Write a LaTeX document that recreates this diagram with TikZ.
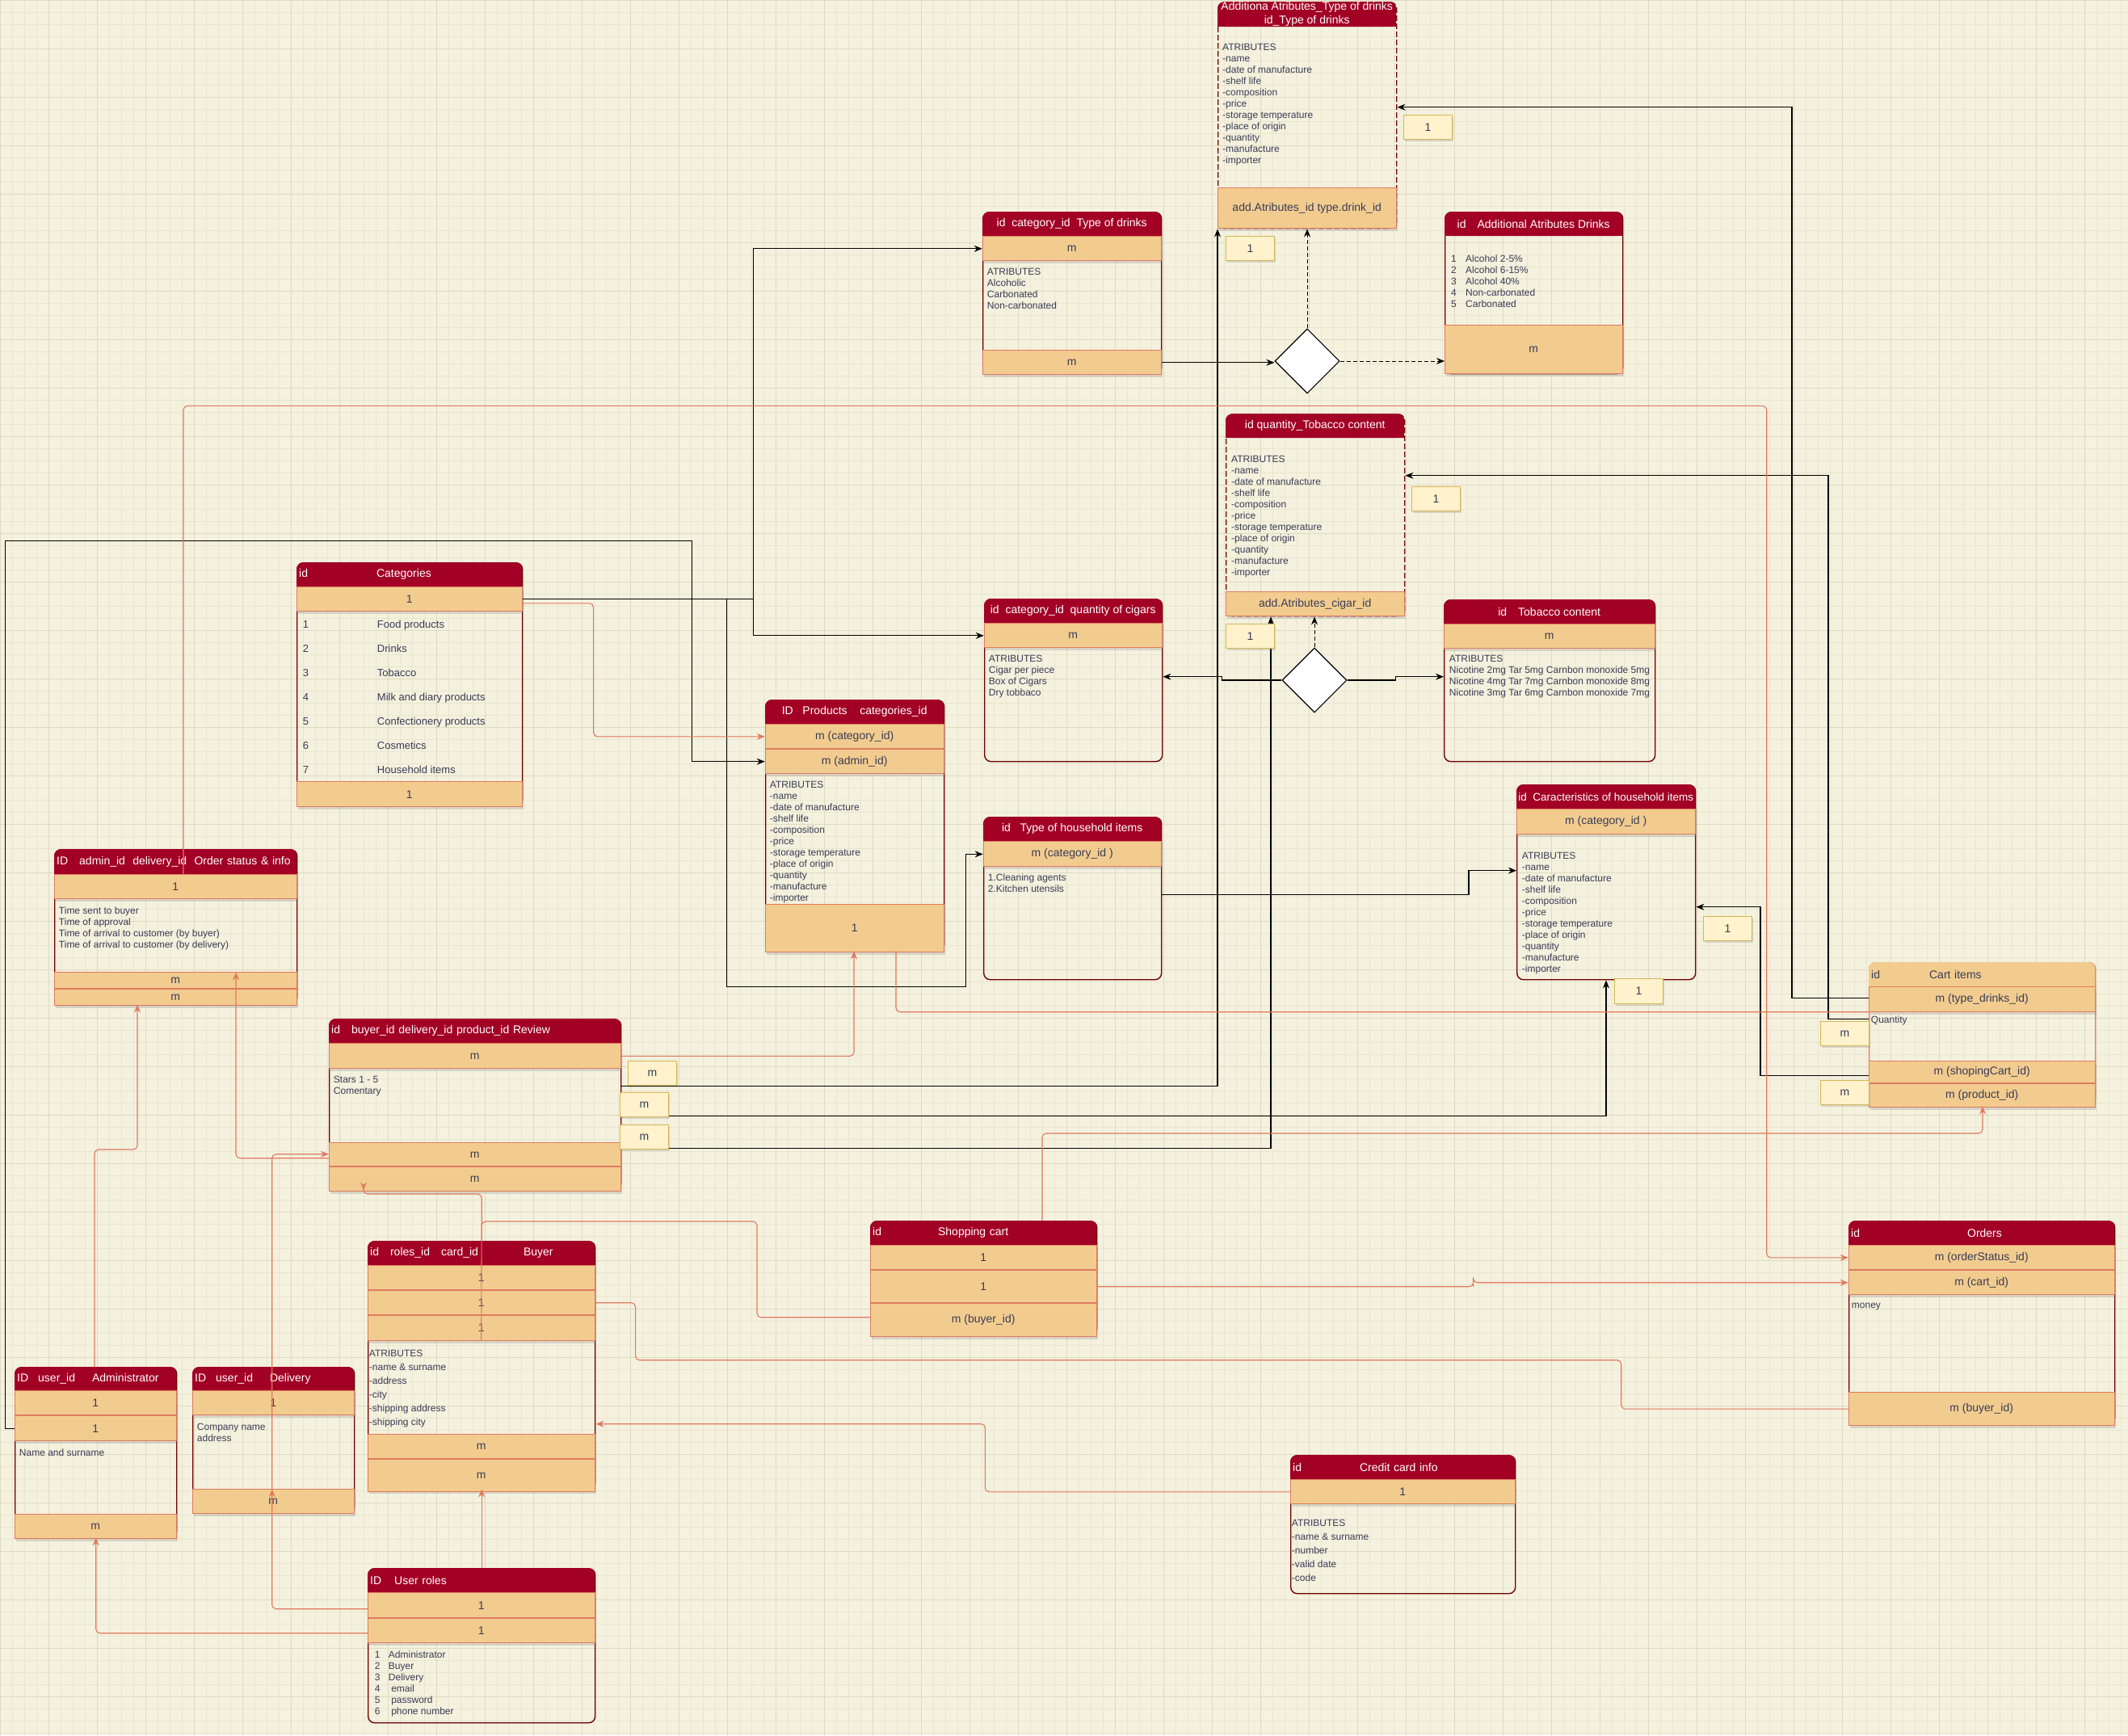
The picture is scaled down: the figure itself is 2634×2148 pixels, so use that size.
\documentclass[tikz,border=0pt]{standalone}
\usepackage{fontspec}
\setmainfont{Liberation Sans}
\usetikzlibrary{positioning,shapes.geometric,arrows.meta,shadows}

\definecolor{bg}{HTML}{F4F1DE}
\definecolor{gridc}{HTML}{E9E5CF}
\definecolor{gridmaj}{HTML}{DFDAC1}
\definecolor{hdrred}{HTML}{A20025}
\definecolor{hdrline}{HTML}{6F0000}
\definecolor{rowfill}{HTML}{F2CC8F}
\definecolor{rowline}{HTML}{E07A5F}
\definecolor{lblfill}{HTML}{FFF2CC}
\definecolor{lblline}{HTML}{D6B656}
\definecolor{txtc}{HTML}{393C56}
\definecolor{relc}{HTML}{E07A5F}

\newcommand{\fhdr}{\fontsize{14}{17}\selectfont}
\newcommand{\frow}{\fontsize{14}{17}\selectfont}
\newcommand{\fbody}{\fontsize{12}{14}\selectfont}
\newcommand{\lnum}[2]{\makebox[#1pt][l]{#2}}
\newcommand{\attrlist}{ATRIBUTES\\-name\\-date of manufacture\\-shelf life\\-composition\\-price\\-storage temperature\\-place of origin\\-quantity\\-manufacture\\-importer}

\begin{document}
\begin{tikzpicture}[x=1pt, y=-1pt,
    wd/.style={minimum width=#1pt},
    ht/.style={minimum height=#1pt},
    frame/.style={rectangle, draw=hdrline, line width=1.4pt, rounded corners=8pt, anchor=north west, inner sep=0pt},
    dashframe/.style={frame, dash pattern=on 7pt off 3pt},
    hdr/.style={rectangle, anchor=north west, minimum height=30pt, inner xsep=3pt, inner ysep=0pt, align=center, font=\fhdr, text=white,
        path picture={
            \fill[#1, rounded corners=8pt] (path picture bounding box.south west) rectangle (path picture bounding box.north east);
            \fill[#1] (path picture bounding box.south west) rectangle ([yshift=12pt]path picture bounding box.south east);}},
    hdr/.default=hdrred,
    row/.style={rectangle, fill=rowfill, draw=rowline, line width=0.9pt, inner sep=0pt, font=\frow, text=txtc,
        drop shadow={shadow xshift=2pt, shadow yshift=-3pt, opacity=0.25}},
    txt/.style={inner sep=0pt, align=left, font=\fbody, text=txtc},
    lbl/.style={rectangle, fill=lblfill, draw=lblline, line width=0.9pt, minimum width=60pt, minimum height=30pt, inner sep=0pt,
        anchor=north west, font=\frow, text=txtc, drop shadow={shadow xshift=2pt, shadow yshift=-3pt, opacity=0.25}},
    dia/.style={diamond, draw=black, fill=white, line width=1.1pt, minimum width=80pt, minimum height=80pt, inner sep=0pt},
    conn/.style={draw=black, line width=1.1pt, -{Stealth[length=10pt, width=8pt]}},
    dconn/.style={conn, line width=0.9pt, dash pattern=on 5pt off 3pt},
    rel/.style={draw=relc, line width=1.1pt, rounded corners=5pt, -{Stealth[length=10pt, width=8pt]}}
]
    % canvas
    \useasboundingbox (0,0) rectangle (2634,2148);
    \fill[bg] (0,0) rectangle (2634,2148);
    \begin{scope}[y=1pt]
        \draw[gridc, line width=0.5pt, step=15pt] (0,-2148) grid (2634,0);
        \draw[gridmaj, line width=0.7pt, step=60pt] (0,-2148) grid (2634,0);
    \end{scope}

    % Additional atributes of drinks (dashed)
    \node[dashframe, wd=221, ht=280] (adddr) at (1507,2) {};
    \node[hdr, wd=221, ht=31] (adddr-h) at (adddr.north west) {Additiona Atributes\_Type of drinks\\id\_Type of drinks};
    \node[row, wd=221, ht=50, below=199pt of adddr-h] (adddr-f) {add.Atributes\_id type.drink\_id};
    \node[txt, below right=21pt and 6pt of adddr-h.south west] (adddr-t) {\attrlist};

    % Type of drinks
    \node[frame, wd=221, ht=200] (typedr) at (1216,262) {};
    \node[hdr, wd=221] (typedr-h) at (typedr.north west) {id\ \ category\_id\ \ Type of drinks};
    \node[row, wd=221, ht=30, below=0pt of typedr-h] (typedr-r1) {m};
    \node[row, wd=221, ht=30, below=110pt of typedr-r1] (typedr-f) {m};
    \node[txt, below right=9pt and 6pt of typedr-r1.south west] (typedr-t) {ATRIBUTES\\Alcoholic\\Carbonated\\Non-carbonated};

    % Additional atributes drinks
    \node[frame, wd=220, ht=200] (addattr) at (1788,262) {};
    \node[hdr, wd=220] (addattr-h) at (addattr.north west) {id\quad Additional Atributes Drinks};
    \node[row, wd=220, ht=60, below=110pt of addattr-h] (addattr-f) {m};
    \node[txt, below right=23pt and 8pt of addattr-h.south west] (addattr-t) {\lnum{18}{1}Alcohol 2-5\%\\\lnum{18}{2}Alcohol 6-15\%\\\lnum{18}{3}Alcohol 40\%\\\lnum{18}{4}Non-carbonated\\\lnum{18}{5}Carbonated};

    % Tobacco attributes (dashed)
    \node[dashframe, wd=221, ht=250] (tobattr) at (1517,512) {};
    \node[hdr, wd=221] (tobattr-h) at (tobattr.north west) {id quantity\_Tobacco content};
    \node[row, wd=221, ht=30, below=190pt of tobattr-h] (tobattr-f) {add.Atributes\_cigar\_id};
    \node[txt, below right=22pt and 7pt of tobattr-h.south west] (tobattr-t) {\attrlist};

    % Quantity of cigars
    \node[frame, wd=220, ht=201] (cigars) at (1218,741) {};
    \node[hdr, wd=220] (cigars-h) at (cigars.north west) {id\ \ category\_id\ \ quantity of cigars};
    \node[row, wd=220, ht=30, below=0pt of cigars-h] (cigars-r1) {m};
    \node[txt, below right=9pt and 6pt of cigars-r1.south west] (cigars-t) {ATRIBUTES\\Cigar per piece\\Box of Cigars\\Dry tobbaco};

    % Tobacco content
    \node[frame, wd=261, ht=200] (tobcont) at (1787,742) {};
    \node[hdr, wd=261] (tobcont-h) at (tobcont.north west) {id\quad Tobacco content};
    \node[row, wd=261, ht=30, below=0pt of tobcont-h] (tobcont-r1) {m};
    \node[txt, below right=8pt and 7pt of tobcont-r1.south west] (tobcont-t) {ATRIBUTES\\Nicotine 2mg Tar 5mg Carnbon monoxide 5mg\\Nicotine 4mg Tar 7mg Carnbon monoxide 8mg\\Nicotine 3mg Tar 6mg Carnbon monoxide 7mg};

    % Categories
    \node[frame, wd=279, ht=301] (cat) at (367,696) {};
    \node[hdr, text width=273pt, align=left] (cat-h) at (cat.north west) {id\hspace{85pt}Categories};
    \node[row, wd=279, ht=30, below=0pt of cat-h] (cat-r1) {1};
    \node[row, wd=279, ht=31, below=210pt of cat-r1] (cat-f) {1};
    \node[txt, font=\fontsize{13}{30}\selectfont, below right=11pt and 8pt of cat-r1.south west] (cat-t) {\lnum{92}{1}Food products\\\lnum{92}{2}Drinks\\\lnum{92}{3}Tobacco\\\lnum{92}{4}Milk and diary products\\\lnum{92}{5}Confectionery products\\\lnum{92}{6}Cosmetics\\\lnum{92}{7}Household items};

    % Products
    \node[frame, wd=221, ht=310] (prod) at (947,866) {};
    \node[hdr, wd=221] (prod-h) at (prod.north west) {ID\ \ \ Products\ \ \ \ categories\_id};
    \node[row, wd=221, ht=30, below=0pt of prod-h] (prod-r1) {m (category\_id)};
    \node[row, wd=221, ht=30, below=0pt of prod-r1] (prod-r2) {m (admin\_id)};
    \node[row, wd=221, ht=59, below=161pt of prod-r2] (prod-f) {1};
    \node[txt, below right=9pt and 6pt of prod-r2.south west] (prod-t) {\attrlist};

    % Type of household items
    \node[frame, wd=220, ht=201] (typehh) at (1217,1011) {};
    \node[hdr, wd=220] (typehh-h) at (typehh.north west) {id\ \ \ Type of household items};
    \node[row, wd=220, ht=31, below=0pt of typehh-h] (typehh-r1) {m (category\_id )};
    \node[txt, below right=8pt and 6pt of typehh-r1.south west] (typehh-t) {1.Cleaning agents\\2.Kitchen utensils};

    % Caracteristics of household items
    \node[frame, wd=221, ht=241] (charhh) at (1877,971) {};
    \node[hdr, wd=221, inner xsep=1pt, font=\fontsize{13.5}{16}\selectfont] (charhh-h) at (charhh.north west) {id\ \ Caracteristics of household items};
    \node[row, wd=221, ht=31, below=0pt of charhh-h] (charhh-r1) {m (category\_id )};
    \node[txt, below right=22pt and 7pt of charhh-r1.south west] (charhh-t) {\attrlist};

    % Order status & info
    \node[frame, wd=300, ht=191] (ordst) at (67,1051) {};
    \node[hdr, ht=31, text width=294pt, align=left] (ordst-h) at (ordst.north west) {ID\ \ \ admin\_id\ \ delivery\_id\ \ Order status \& info};
    \node[row, wd=300, ht=30, below=0pt of ordst-h] (ordst-r1) {1};
    \node[row, wd=300, ht=20, below=90pt of ordst-r1] (ordst-r2) {m};
    \node[row, wd=300, ht=20, below=0pt of ordst-r2] (ordst-r3) {m};
    \node[txt, below right=9pt and 6pt of ordst-r1.south west] (ordst-t) {Time sent to buyer\\Time of approval\\Time of arrival to customer (by buyer)\\Time of arrival to customer (by delivery)};

    % Review
    \node[frame, wd=361, ht=211] (review) at (407,1261) {};
    \node[hdr, text width=355pt, align=left] (review-h) at (review.north west) {id\ \ \ buyer\_id delivery\_id product\_id Review};
    \node[row, wd=361, ht=31, below=0pt of review-h] (review-r1) {m};
    \node[row, wd=361, ht=29, below=91pt of review-r1] (review-r2) {m};
    \node[row, wd=361, ht=30, below=0pt of review-r2] (review-r3) {m};
    \node[txt, below right=9pt and 6pt of review-r1.south west] (review-t) {Stars 1 - 5\\Comentary};

    % Cart items
    \node[frame, draw=rowline, wd=280, ht=177] (cartit) at (2313,1191) {};
    \node[hdr=rowfill, text=txtc, text width=274pt, align=left] (cartit-h) at (cartit.north west) {id\hspace{61pt}Cart items};
    \node[row, wd=280, ht=31, below=0pt of cartit-h] (cartit-r1) {m (type\_drinks\_id)};
    \node[row, wd=280, ht=27, below=60pt of cartit-r1] (cartit-r2) {m (shopingCart\_id)};
    \node[row, wd=280, ht=29, below=0pt of cartit-r2] (cartit-r3) {m (product\_id)};
    \node[txt, below right=4pt and 3pt of cartit-r1.south west] (cartit-t) {Quantity};

    % Administrator
    \node[frame, wd=200, ht=210] (admin) at (18,1692) {};
    \node[hdr, ht=29, text width=194pt, align=left] (admin-h) at (admin.north west) {ID\hspace{12pt}user\_id\hspace{21pt}Administrator};
    \node[row, wd=200, ht=30, below=0pt of admin-h] (admin-r1) {1};
    \node[row, wd=200, ht=31, below=0pt of admin-r1] (admin-r2) {1};
    \node[row, wd=200, ht=30, below=90pt of admin-r2] (admin-f) {m};
    \node[txt, below right=9pt and 6pt of admin-r2.south west] (admin-t) {Name and surname};

    % Delivery
    \node[frame, wd=200, ht=180] (deliv) at (238,1692) {};
    \node[hdr, ht=29, text width=194pt, align=left] (deliv-h) at (deliv.north west) {ID\hspace{12pt}user\_id\hspace{21pt}Delivery};
    \node[row, wd=200, ht=30, below=0pt of deliv-h] (deliv-r1) {1};
    \node[row, wd=200, ht=30, below=91pt of deliv-r1] (deliv-f) {m};
    \node[txt, below right=10pt and 6pt of deliv-r1.south west] (deliv-t) {Company name\\address};

    % Buyer
    \node[frame, wd=281, ht=306] (buyer) at (455,1536) {};
    \node[hdr, text width=275pt, align=left] (buyer-h) at (buyer.north west) {id\ \ \ roles\_id\ \ \ card\_id\hspace{56pt}Buyer};
    \node[row, wd=281, ht=30, below=0pt of buyer-h] (buyer-r1) {1};
    \node[row, wd=281, ht=30, below=0pt of buyer-r1] (buyer-r2) {1};
    \node[row, wd=281, ht=31, below=0pt of buyer-r2] (buyer-r3) {1};
    \node[row, wd=281, ht=30, below=115pt of buyer-r3] (buyer-r4) {m};
    \node[row, wd=281, ht=40, below=0pt of buyer-r4] (buyer-r5) {m};
    \node[txt, font=\fontsize{12}{17}\selectfont, below right=11pt and 2pt of buyer-r3.south west] (buyer-t) {ATRIBUTES\\-name \& surname\\-address\\-city\\-shipping address\\-shipping city};

    % Shopping cart
    \node[frame, wd=280, ht=141] (shopc) at (1077,1511) {};
    \node[hdr, text width=274pt, align=left] (shopc-h) at (shopc.north west) {id\hspace{70pt}Shopping cart};
    \node[row, wd=280, ht=30, below=0pt of shopc-h] (shopc-r1) {1};
    \node[row, wd=280, ht=40, below=0pt of shopc-r1] (shopc-r2) {1};
    \node[row, wd=280, ht=41, below=0pt of shopc-r2] (shopc-r3) {m (buyer\_id)};

    % Orders
    \node[frame, wd=329, ht=251] (orders) at (2288,1511) {};
    \node[hdr, text width=323pt, align=left] (orders-h) at (orders.north west) {id\hspace{133pt}Orders};
    \node[row, wd=329, ht=30, below=0pt of orders-h] (orders-r1) {m (orderStatus\_id)};
    \node[row, wd=329, ht=30, below=0pt of orders-r1] (orders-r2) {m (cart\_id)};
    \node[row, wd=329, ht=41, below=120pt of orders-r2] (orders-f) {m (buyer\_id)};
    \node[txt, below right=10pt and 4pt of orders-r2.south west] (orders-t) {money};

    % Credit card info
    \node[frame, wd=278, ht=171] (ccard) at (1597,1801) {};
    \node[hdr, text width=272pt, align=left] (ccard-h) at (ccard.north west) {id\hspace{72pt}Credit card info};
    \node[row, wd=278, ht=30, below=0pt of ccard-h] (ccard-r1) {1};
    \node[txt, font=\fontsize{12}{17}\selectfont, below right=19pt and 2pt of ccard-r1.south west] (ccard-t) {ATRIBUTES\\-name \& surname\\-number\\-valid date\\-code};

    % User roles
    \node[frame, wd=281, ht=191] (roles) at (455,1941) {};
    \node[hdr, text width=275pt, align=left] (roles-h) at (roles.north west) {ID\hspace{16pt}User roles};
    \node[row, wd=281, ht=31, below=0pt of roles-h] (roles-r1) {1};
    \node[row, wd=281, ht=30, below=0pt of roles-r1] (roles-r2) {1};
    \node[txt, below right=9pt and 9pt of roles-r2.south west] (roles-t) {\lnum{17}{1}Administrator\\\lnum{17}{2}Buyer\\\lnum{17}{3}Delivery\\\lnum{17}{4}\ email\\\lnum{17}{5}\ password\\\lnum{17}{6}\ phone number};

    % Relationship diamonds
    \node[dia] (d1) at (1618,447) {};
    \node[dia] (d2) at (1627,842) {};

    % Black connectors
    \draw[conn] (cat-r1.east) -- ++(286,0) |- (typedr-r1.west);
    \draw[conn] (cat-r1.east) -- ++(286,0) |- (cigars-r1.west);
    \draw[conn] (cat-r1.east) -| ++(253,480) -| ([xshift=-21pt]typehh-r1.west) -- (typehh-r1.west);
    \draw[conn] (admin-r2.west) -| ++(-11,-1099) -| ([xshift=-90pt]prod-r2.west) -- (prod-r2.west);
    \draw[conn] (typedr-f.east) -- (typedr-f.east -| d1.west);
    \draw[dconn] (d1.east) -- (d1.east -| addattr.west);
    \draw[dconn] (d1.north) -- (d1.north |- adddr.south);
    \draw[dconn] (d2.north) -- (d2.north |- tobattr.south);
    \draw[conn] (d2.west) -- ++(-74,0) |- ([yshift=4.5pt]cigars.east);
    \draw[conn] (d2.east) -- ++(60,0) |- ([yshift=5pt]tobcont.west);
    \draw[conn] ([yshift=22.5pt]review.east) -| (adddr.south west);
    \draw[conn] ([yshift=-14.5pt]review.east) -| ([xshift=111pt]charhh.south west);
    \draw[conn] ([yshift=-54.5pt]review.east) -| ([xshift=56pt]tobattr.south west);
    \draw[conn] ([yshift=4.5pt]typehh.east) -| ([xshift=-59pt,yshift=14.5pt]charhh.west) -- ([yshift=14.5pt]charhh.west);
    \draw[conn] ([yshift=44.5pt]cartit.west) -- ++(-95,0) |- ([yshift=10pt]adddr.east);
    \draw[conn] ([yshift=18.5pt]cartit.west) -- ++(-50,0) |- ([yshift=49pt]tobattr.east);
    \draw[conn] ([yshift=-51.5pt]cartit.west) -- ++(-134,0) |- ([yshift=-30.5pt]charhh.east);

    % Salmon connectors
    \draw[rel] ([yshift=-5pt]cat-r1.east) -- ++(88,0) |- (prod-r1.west);
    \draw[rel] (review-r1.east) -| ([xshift=110pt]prod.south west);
    \draw[rel, -] ([xshift=162pt]prod.south west) |- ([yshift=27.5pt]cartit.west);
    \draw[rel] ([xshift=160pt]ordst-h.south west) -- ++(0,-580) -| ([xshift=-101pt]orders-r1.west) -- (orders-r1.west);
    \draw[rel] ([xshift=99pt]admin.north west) -- ++(0,-269) -| ([xshift=103pt]ordst.south west);
    \draw[rel] ([yshift=-66.5pt]review.west) -| ([xshift=225pt,yshift=40pt]ordst.south west);
    \draw[rel] ([xshift=99pt]deliv-f.north west) |- ([yshift=-61.5pt]review.west);
    \draw[rel] ([yshift=45.5pt]roles.west) -| ([xshift=99pt]deliv-f.north west);
    \draw[rel] ([yshift=15.5pt]roles.west) -| (admin.south);
    \draw[rel] (roles.north) -- (buyer.south);
    \draw[rel] (buyer.north) -- ++(0,-58) -| ([xshift=43pt]review.south west);
    \draw[rel, -] ([yshift=-48.5pt]shopc.west) -- ++(-140,0) |- ([yshift=24pt]buyer.north) -- (buyer-r3.south);
    \draw[rel] ([xshift=213pt]shopc.north west) -- ++(0,-108) -| ([xshift=141pt]cartit.south west);
    \draw[rel] (shopc-r2.east) -| ++(466,-5) |- (orders-r2.west);
    \draw[rel, -] (buyer-r2.east) -- ++(50,0) -- ++(0,71) -| ([xshift=-281pt]orders-f.west) -- (orders-f.west);
    \draw[rel] (ccard-r1.west) -| ([xshift=482pt,yshift=-73pt]buyer.east) -- ([yshift=-73pt]buyer.east);

    % Cardinality labels
    \node[lbl] (lab-a) at (1737,142) {1};
    \node[lbl] (lab-b) at (1517,292) {1};
    \node[lbl] (lab-c) at (1747,602) {1};
    \node[lbl] (lab-d) at (1517,772) {1};
    \node[lbl] (lab-e) at (2108,1134) {1};
    \node[lbl, minimum height=31pt] (lab-f) at (1998,1211) {1};
    \node[lbl] (lab-g) at (2253,1264) {m};
    \node[lbl] (lab-h) at (2253,1337) {m};
    \node[lbl] (lab-i) at (777,1313) {m};
    \node[lbl] (lab-j) at (767,1352) {m};
    \node[lbl] (lab-k) at (767,1392) {m};
\end{tikzpicture}
\end{document}
